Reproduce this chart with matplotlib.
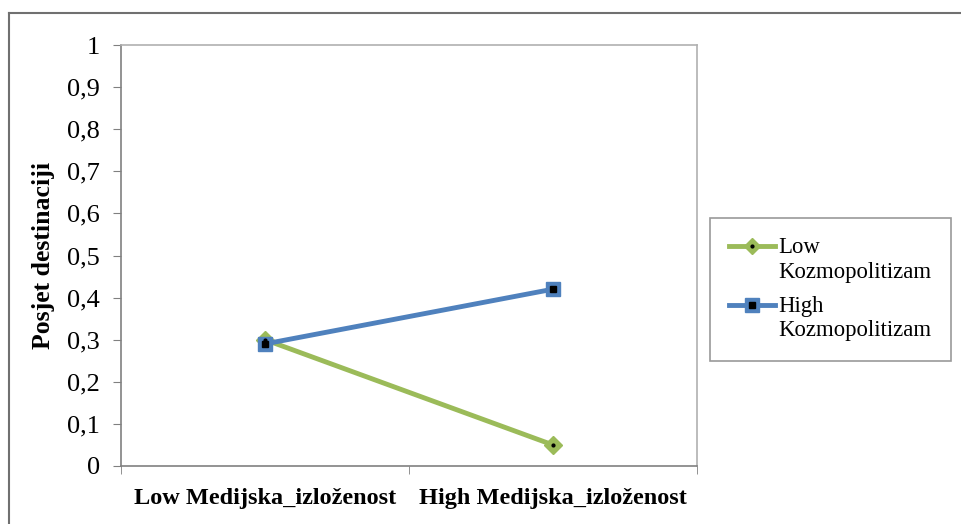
import numpy as np
import matplotlib.pyplot as plt
from matplotlib.lines import Line2D
from matplotlib.legend_handler import HandlerLine2D, HandlerTuple

categories = ['Low Medijska_izloženost', 'High Medijska_izloženost']
low_kozmo = [0.30, 0.05]
high_kozmo = [0.29, 0.42]
series_names = ['Low\nKozmopolitizam', 'High\nKozmopolitizam']
yticks = [0, 0.1, 0.2, 0.3, 0.4, 0.5, 0.6, 0.7, 0.8, 0.9, 1]
ytick_labels = ['0', '0,1', '0,2', '0,3', '0,4', '0,5', '0,6', '0,7', '0,8', '0,9', '1']

plt.rcParams['font.family'] = ['Liberation Serif', 'DejaVu Serif']

green = '#9BBB59'
blue = '#4F81BD'


# legend handle sits on the first text line, like Excel does
class FirstLineHandler(HandlerLine2D):
    def create_artists(self, legend, orig_handle, xdescent, ydescent,
                       width, height, fontsize, trans):
        arts = super().create_artists(legend, orig_handle, xdescent, ydescent,
                                      width, height, fontsize, trans)
        for a in arts:
            a.set_ydata(np.asarray(a.get_ydata()) + 0.62 * fontsize)
        return arts


fig = plt.figure(figsize=(9.62, 5.24), dpi=100)
ax = fig.add_axes([121/962, 58/524, 576/962, 421/524])

x = np.arange(len(categories))
ax.plot(x, low_kozmo, color=green, lw=3.5, marker='D', markersize=9,
        markerfacecolor=green, markeredgecolor=green, zorder=3)
ax.plot(x, low_kozmo, ls='none', marker='o', markersize=2, color='black', zorder=4)
ax.plot(x, high_kozmo, color=blue, lw=3.5, marker='s', markersize=10,
        markerfacecolor=blue, markeredgecolor=blue, zorder=3)
ax.plot(x, high_kozmo, ls='none', marker='s', markersize=4, color='black', zorder=4)

ax.set_xlim(-0.5, 1.5)
ax.set_ylim(0, 1)
ax.set_yticks(yticks)
ax.set_yticklabels(ytick_labels, fontsize=19)
ax.set_xticks(x)
ax.set_xticklabels(categories, fontsize=17.5, fontweight='bold')
ax.tick_params(axis='x', length=0, pad=16)
ax.set_xticks([-0.5, 0.5, 1.5], minor=True)
ax.tick_params(axis='x', which='minor', length=6, direction='out', color='#808080')
ax.tick_params(axis='y', length=6, direction='out', color='#808080', pad=9)
ax.set_ylabel('Posjet destinaciji', fontsize=18.5, fontweight='bold', labelpad=9)

for side in ['left', 'bottom']:
    ax.spines[side].set_color('#808080')
    ax.spines[side].set_linewidth(1.2)
for side in ['top', 'right']:
    ax.spines[side].set_color('#B0B0B0')
    ax.spines[side].set_linewidth(1.2)

low_handle = (
    Line2D([0], [0], color=green, lw=3.5, marker='D', markersize=8,
           markerfacecolor=green, markeredgecolor=green),
    Line2D([0], [0], ls='none', marker='o', markersize=2, color='black'),
)
high_handle = (
    Line2D([0], [0], color=blue, lw=3.5, marker='s', markersize=10,
           markerfacecolor=blue, markeredgecolor=blue),
    Line2D([0], [0], ls='none', marker='s', markersize=4, color='black'),
)
leg = fig.legend([low_handle, high_handle], series_names, loc='upper left',
                 bbox_to_anchor=(710/962, 1 - 218/524), fontsize=16.4,
                 frameon=True, fancybox=False, edgecolor='#808080',
                 handlelength=2.0, handletextpad=0.15, labelspacing=0.6,
                 borderpad=0.85, borderaxespad=0,
                 handler_map={Line2D: FirstLineHandler(),
                              tuple: HandlerTuple(ndivide=1, pad=0)})
leg.get_frame().set_linewidth(1.2)

# outer chart border
fig.add_artist(Line2D([9/962, 1], [1 - 13/524, 1 - 13/524], color='#707070', lw=1.5))
fig.add_artist(Line2D([9/962, 9/962], [0, 1 - 13/524], color='#707070', lw=1.5))

fig.savefig('out.png', dpi=100)
